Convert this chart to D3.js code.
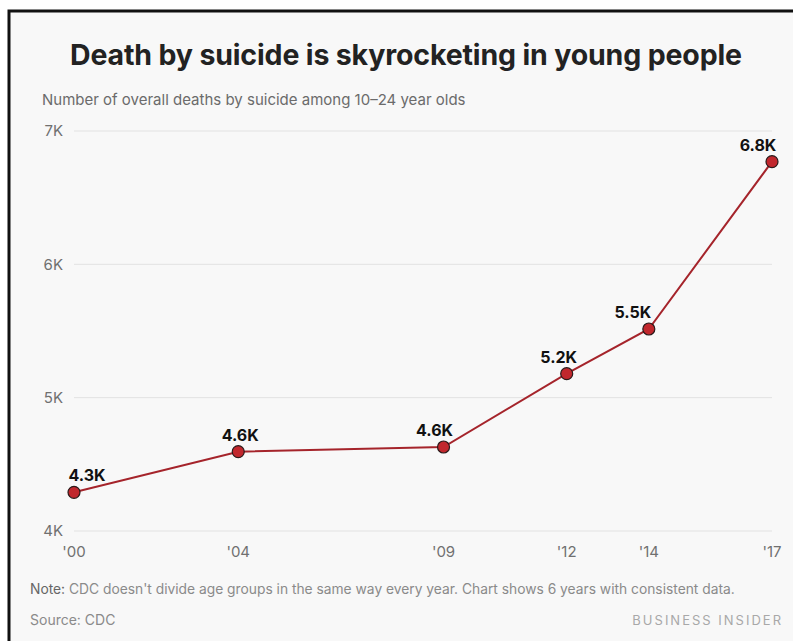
<!DOCTYPE html>
<html>
<head>
<meta charset="utf-8">
<script src="https://cdn.jsdelivr.net/npm/d3@7"></script>
<style>
  html, body { margin: 0; padding: 0; background: #fff; overflow: hidden; }
  svg { display: block; font-family: Inter, "Open Sans", sans-serif; }
</style>
</head>
<body>
<svg id="chart" width="793" height="641"></svg>
<script>
// values (deaths, 10-24 year olds)
var years = [2000, 2004, 2009, 2012, 2014, 2017];
var deaths = [4290, 4595, 4630, 5180, 5515, 6770];
var valueLabels = ['4.3K', '4.6K', '4.6K', '5.2K', '5.5K', '6.8K'];
var yTicks = [4000, 5000, 6000, 7000];
var yTickLabels = ['4K', '5K', '6K', '7K'];
var xTickLabels = ["'00", "'04", "'09", "'12", "'14", "'17"];

var svg = d3.select('#chart');

// card background + the cropped black frame (top and left only)
svg.append('rect')
    .attr('x', 0).attr('y', 0)
    .attr('width', 793).attr('height', 641)
    .attr('fill', '#f8f8f8');

svg.append('rect')
    .attr('x', 0).attr('y', 0)
    .attr('width', 793).attr('height', 9.5)
    .attr('fill', '#fff');
svg.append('rect')
    .attr('x', 0).attr('y', 0)
    .attr('width', 7.5).attr('height', 641)
    .attr('fill', '#fff');

svg.append('path')
    .attr('d', 'M9,641V11H793')
    .attr('fill', 'none')
    .attr('stroke', '#111')
    .attr('stroke-width', 3);

svg.append('text')
    .attr('x', 406).attr('y', 65)
    .attr('text-anchor', 'middle')
    .attr('font-size', 28.5)
    .attr('font-weight', 700)
    .attr('fill', '#222')
    .attr('textLength', 672)
    .text('Death by suicide is skyrocketing in young people');

svg.append('text')
    .attr('x', 42).attr('y', 105)
    .attr('font-size', 15)
    .attr('fill', '#6b6b6b')
    .text('Number of overall deaths by suicide among 10\u201324 year olds');

var x = d3.scaleLinear().domain([2000, 2017]).range([74, 772]);
var y = d3.scaleLinear().domain([4000, 7000]).range([531, 131]);

// gridlines
svg.append('g')
    .selectAll('line')
    .data(yTicks)
    .join('line')
        .attr('x1', x(2000))
        .attr('x2', x(2017))
        .attr('y1', function (d) { return y(d); })
        .attr('y2', function (d) { return y(d); })
        .attr('stroke', '#e2e2e2')
        .attr('stroke-width', 1);

svg.append('g')
    .selectAll('text')
    .data(yTicks)
    .join('text')
        .attr('x', 63)
        .attr('y', function (d) { return y(d); })
        .attr('dy', '0.35em')
        .attr('text-anchor', 'end')
        .attr('font-size', 15)
        .attr('fill', '#707070')
        .text(function (d, i) { return yTickLabels[i]; });

svg.append('g')
    .selectAll('text')
    .data(years)
    .join('text')
        .attr('x', function (d) { return x(d); })
        .attr('y', 557)
        .attr('text-anchor', 'middle')
        .attr('font-size', 15)
        .attr('fill', '#707070')
        .text(function (d, i) { return xTickLabels[i]; });

var pts = years.map(function (yr, i) { return [yr, deaths[i]]; });

svg.append('path')
    .datum(pts)
    .attr('fill', 'none')
    .attr('stroke', '#a5242b')
    .attr('stroke-width', 2)
    .attr('d', d3.line()
        .x(function (d) { return x(d[0]); })
        .y(function (d) { return y(d[1]); }));

svg.append('g')
    .selectAll('circle')
    .data(pts)
    .join('circle')
        .attr('cx', function (d) { return x(d[0]); })
        .attr('cy', function (d) { return y(d[1]); })
        .attr('r', 6)
        .attr('fill', '#c1272d')
        .attr('stroke', '#2a1a1a')
        .attr('stroke-width', 1.2);

// labels sit a bit left of the point toward the right side of the chart
var labelShift = [13, 2, -9, -8, -16, -14];

svg.append('g')
    .selectAll('text')
    .data(pts)
    .join('text')
        .attr('x', function (d, i) { return x(d[0]) + labelShift[i]; })
        .attr('y', function (d) { return y(d[1]) - 11; })
        .attr('text-anchor', 'middle')
        .attr('font-size', 16)
        .attr('font-weight', 700)
        .attr('fill', '#111')
        .text(function (d, i) { return valueLabels[i]; });

var note = svg.append('text')
    .attr('x', 30).attr('y', 594)
    .attr('font-size', 13.8)
    .attr('fill', '#8a8a8a');
note.append('tspan').attr('fill', '#666').text('Note:');
note.append('tspan').text(" CDC doesn't divide age groups in the same way every year. Chart shows 6 years with consistent data.");

svg.append('text')
    .attr('x', 30).attr('y', 625)
    .attr('font-size', 14)
    .attr('fill', '#8a8a8a')
    .text('Source: CDC');

svg.append('text')
    .attr('x', 783).attr('y', 625)
    .attr('text-anchor', 'end')
    .attr('font-size', 13)
    .attr('letter-spacing', 2)
    .attr('fill', '#a8a8a8')
    .text('BUSINESS INSIDER');
</script>
</body>
</html>
